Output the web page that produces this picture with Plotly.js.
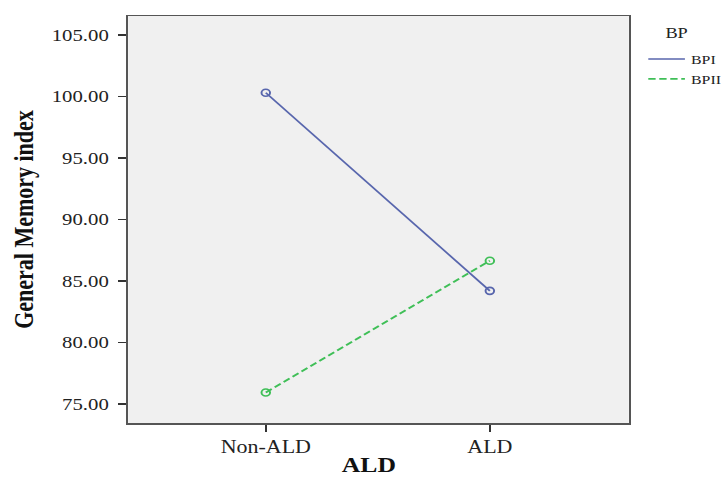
<!DOCTYPE html>
<html>
<head>
<meta charset="utf-8">
<script src="https://cdn.plot.ly/plotly-3.0.1.min.js"></script>
<style>
html,body{margin:0;padding:0;background:#fff;}
#wrap{width:724px;height:479px;overflow:hidden;}
#plot{width:593px;height:479px;transform:scaleX(1.22091);transform-origin:0 0;}
</style>
</head>
<body>
<div id="wrap"><div id="plot"></div></div>
<script>
const categories = ['Non-ALD', 'ALD'];
const seriesNames = ['BPI', 'BPII'];
const legendTitle = 'BP';
const xTitle = 'ALD';
const bpiValues = [100.3, 84.2];
const bpiiValues = [75.94, 86.65];
const yTickValues = [75, 80, 85, 90, 95, 100, 105];

const serif = 'Liberation Serif, Times New Roman, serif';
const blue = '#5866ad';
const green = '#3fbf57';

const traces = [
  {x: categories, y: bpiValues, name: seriesNames[0], type: 'scatter', mode: 'lines',
   line: {color: blue, width: 1.6}, legendgroup: 'a'},
  {x: categories, y: bpiiValues, name: seriesNames[1], type: 'scatter', mode: 'lines',
   line: {color: green, width: 1.8, dash: '6px,3px'}, legendgroup: 'b'},
  {x: categories, y: bpiValues, name: seriesNames[0], type: 'scatter', mode: 'markers', showlegend: false,
   marker: {symbol: 'circle-open', size: 7, color: blue, line: {width: 1.6}}, legendgroup: 'a'},
  {x: categories, y: bpiiValues, name: seriesNames[1], type: 'scatter', mode: 'markers', showlegend: false,
   marker: {symbol: 'circle-open', size: 7, color: green, line: {width: 1.6}}, legendgroup: 'b'}
];

const layout = {
  width: 593, height: 479,
  margin: {l: 105, r: 78, t: 16, b: 56},
  paper_bgcolor: '#ffffff',
  plot_bgcolor: '#f0f0f0',
  font: {family: serif, color: '#222'},
  showlegend: true,
  legend: {
    xref: 'container', yref: 'container',
    x: 0.887, y: 0.908, xanchor: 'left', yanchor: 'top',
    bgcolor: 'rgba(0,0,0,0)',
    font: {family: serif, size: 13, color: '#222'},
    itemwidth: 30, tracegroupgap: 0
  },
  annotations: [
    {text: legendTitle, xref: 'paper', yref: 'paper', x: 1.096, y: 0.958,
     xanchor: 'center', yanchor: 'middle', showarrow: false,
     font: {family: serif, size: 15, color: '#222'}},
    {text: '<b>' + xTitle + '</b>', xref: 'paper', yref: 'paper', x: 0.48, y: -0.1351,
     xanchor: 'center', yanchor: 'bottom', showarrow: false, borderpad: 0,
     font: {family: serif, size: 21, color: '#111'}}
  ],
  xaxis: {
    type: 'category',
    range: [-0.614, 1.62],
    showgrid: false, zeroline: false,
    showline: true, mirror: true, linecolor: '#555', linewidth: 1.5,
    ticks: 'outside', ticklen: 7, tickcolor: '#333', tickwidth: 1.5,
    tickfont: {family: serif, size: 18, color: '#222'}
  },
  yaxis: {
    range: [73.46, 106.54],
    tickvals: yTickValues,
    tickformat: '.2f',
    showgrid: false, zeroline: false,
    showline: true, mirror: true, linecolor: '#555', linewidth: 1.5,
    ticks: 'outside', ticklen: 7, tickcolor: '#333', tickwidth: 1.5,
    ticklabelstandoff: 4,
    tickfont: {family: serif, size: 17, color: '#222'},
    title: {text: '<b>General Memory index</b>', font: {family: serif, size: 22, color: '#111'}, standoff: 8}
  }
};

Plotly.newPlot('plot', traces, layout, {displayModeBar: false, staticPlot: true});
</script>
</body>
</html>
